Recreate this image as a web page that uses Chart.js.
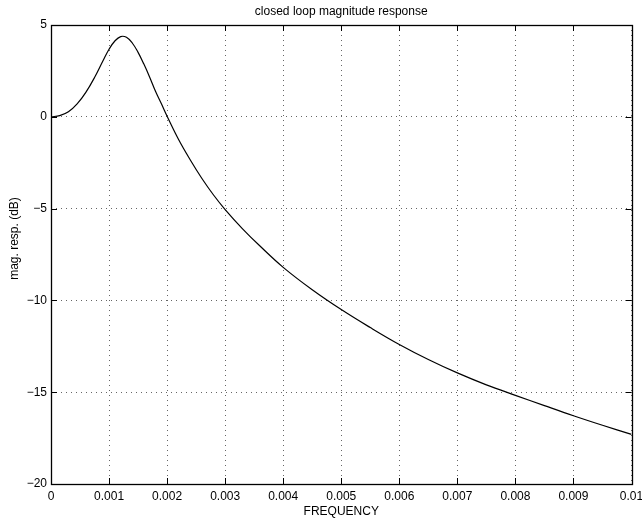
<!DOCTYPE html>
<html>
<head>
<meta charset="utf-8">
<script src="https://cdn.jsdelivr.net/npm/chart.js@4"></script>
<style>
  html, body { margin: 0; padding: 0; background: #fff; }
  canvas { display: block; }
</style>
</head>
<body>
<canvas id="magChart" width="642" height="522"></canvas>
<script>
// frequency points
const freq = [0, 0.00015, 0.0003, 0.00045, 0.0006, 0.00075, 0.0009, 0.001, 0.0011, 0.0012,
  0.0013, 0.0014, 0.0015, 0.0016, 0.0017, 0.0018, 0.0019, 0.002, 0.0022, 0.0024,
  0.0026, 0.0028, 0.003, 0.0033, 0.0036, 0.004, 0.0045, 0.005, 0.0055, 0.006,
  0.0065, 0.007, 0.0075, 0.008, 0.0085, 0.009, 0.0095, 0.01];
// magnitude response in dB
const magDb = [0, 0.06, 0.27, 0.7, 1.33, 2.14, 3.08, 3.68, 4.13, 4.37,
  4.33, 4.02, 3.51, 2.87, 2.16, 1.39, 0.72, 0.03, -1.25, -2.35,
  -3.36, -4.26, -5.05, -6.1, -7.04, -8.2, -9.42, -10.5, -11.48, -12.4,
  -13.22, -13.95, -14.6, -15.17, -15.73, -16.28, -16.8, -17.3];

const xTicks = [0, 0.001, 0.002, 0.003, 0.004, 0.005, 0.006, 0.007, 0.008, 0.009, 0.01];
const yTicks = [-20, -15, -10, -5, 0, 5];

const chartTitle = 'closed loop magnitude response';
const xLabel = 'FREQUENCY';
const yLabel = 'mag. resp. (dB)';

const fontFamily = '"Liberation Sans", Arial, Helvetica, sans-serif';
Chart.defaults.font.family = fontFamily;
Chart.defaults.font.size = 12;
Chart.defaults.color = '#000';

const points = freq.map((f, i) => ({ x: f, y: magDb[i] }));

// matlab style box with inward ticks, plus the y label
const boxPlugin = {
  id: 'boxPlugin',
  afterDraw(chart) {
    const { ctx, chartArea: a, scales } = chart;
    const len = 6;
    ctx.save();
    ctx.strokeStyle = '#000';
    ctx.lineWidth = 1;
    ctx.beginPath();
    xTicks.forEach(v => {
      const px = Math.round(scales.x.getPixelForValue(v)) + 0.5;
      ctx.moveTo(px, a.bottom); ctx.lineTo(px, a.bottom - len);
      ctx.moveTo(px, a.top); ctx.lineTo(px, a.top + len);
    });
    yTicks.forEach(v => {
      const py = Math.round(scales.y.getPixelForValue(v)) + 0.5;
      ctx.moveTo(a.left, py); ctx.lineTo(a.left + len, py);
      ctx.moveTo(a.right, py); ctx.lineTo(a.right - len, py);
    });
    ctx.stroke();
    ctx.lineWidth = 1.3;
    ctx.strokeRect(Math.round(a.left) + 0.5, Math.round(a.top) + 0.5,
      Math.round(a.right - a.left), Math.round(a.bottom - a.top));

    // y axis label, sits a bit above the middle like the original
    ctx.translate(15, (a.top + a.bottom) / 2 - 16);
    ctx.rotate(-Math.PI / 2);
    ctx.fillStyle = '#000';
    ctx.font = '12px ' + fontFamily;
    ctx.textAlign = 'center';
    ctx.textBaseline = 'middle';
    ctx.fillText(yLabel, 0, 0);
    ctx.restore();
  }
};

new Chart(document.getElementById('magChart').getContext('2d'), {
  type: 'line',
  data: {
    datasets: [{
      data: points,
      borderColor: '#000',
      borderWidth: 1.2,
      pointRadius: 0,
      fill: false,
      tension: 0.4
    }]
  },
  options: {
    responsive: false,
    devicePixelRatio: 1,
    animation: false,
    layout: { padding: { left: 22, right: 10.5, top: 0, bottom: 0 } },
    plugins: {
      legend: { display: false },
      tooltip: { enabled: false },
      title: {
        display: true,
        text: chartTitle,
        fullSize: false,
        font: { size: 12, weight: 'normal' },
        padding: { top: 4, bottom: 6.6 }
      }
    },
    scales: {
      x: {
        type: 'linear',
        min: 0,
        max: 0.01,
        afterBuildTicks(scale) { scale.ticks = xTicks.map(v => ({ value: v })); },
        afterFit(scale) {
          scale.height = 38;
          scale.paddingLeft = 0;
          scale.paddingRight = 0;
        },
        ticks: {
          autoSkip: false,
          maxRotation: 0,
          padding: 5,
          callback: v => String(Number(v.toFixed(3)))
        },
        grid: { color: 'rgba(0,0,0,0.6)', lineWidth: 1, drawTicks: false },
        border: { display: false, dash: [1, 4] },
        title: { display: true, text: xLabel, font: { size: 12 }, padding: { top: 0, bottom: 2.8 } }
      },
      y: {
        type: 'linear',
        min: -20,
        max: 5,
        afterBuildTicks(scale) { scale.ticks = yTicks.map(v => ({ value: v })); },
        afterFit(scale) {
          scale.width = 29;
          scale.paddingTop = 0;
          scale.paddingBottom = 0;
        },
        ticks: {
          padding: 4,
          callback: v => String(v).replace('-', '\u2212')
        },
        grid: { color: 'rgba(0,0,0,0.6)', lineWidth: 1, drawTicks: false },
        border: { display: false, dash: [1, 4] },
        title: { display: false }
      }
    }
  },
  plugins: [boxPlugin]
});
</script>
</body>
</html>
